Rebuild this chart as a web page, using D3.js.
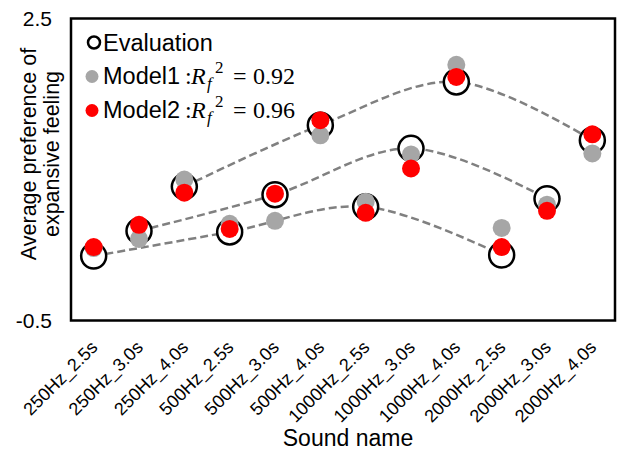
<!DOCTYPE html>
<html>
<head>
<meta charset="utf-8">
<script src="https://cdn.jsdelivr.net/npm/d3@7"></script>
<style>
  body { margin: 0; background: #fff; }
  svg { display: block; }
</style>
</head>
<body>
<div id="chart"></div>
<script>
// data
const categories = ['250Hz_2.5s', '250Hz_3.0s', '250Hz_4.0s', '500Hz_2.5s', '500Hz_3.0s', '500Hz_4.0s',
    '1000Hz_2.5s', '1000Hz_3.0s', '1000Hz_4.0s', '2000Hz_2.5s', '2000Hz_3.0s', '2000Hz_4.0s'];
const evaluation = [0.14, 0.39, 0.83, 0.38, 0.75, 1.44, 0.63, 1.21, 1.87, 0.15, 0.71, 1.29];
const model1 = [0.22, 0.31, 0.90, 0.46, 0.49, 1.34, 0.68, 1.15, 2.04, 0.42, 0.65, 1.16];
const model2 = [0.23, 0.45, 0.77, 0.41, 0.76, 1.49, 0.57, 1.01, 1.92, 0.23, 0.59, 1.35];
// trend curves join the evaluation points of equal duration
const durationGroups = [[0, 3, 6, 9], [1, 4, 7, 10], [2, 5, 8, 11]];
const yTicks = [-0.5, 2.5];
const model1Label = { name: 'Model1', r2: '0.92' };
const model2Label = { name: 'Model2', r2: '0.96' };

const width = 620, height = 452;
const margin = { top: 18.5, right: 5, bottom: 131.5, left: 71 };
const sans = '"Liberation Sans", Arial, sans-serif';
const serif = '"Liberation Serif", "DejaVu Serif", serif';

const svg = d3.select('#chart').append('svg')
    .attr('width', width)
    .attr('height', height);

const chartWidth = width - margin.left - margin.right;
const chartHeight = height - margin.top - margin.bottom;

const g = svg.append('g')
    .attr('transform', `translate(${margin.left},${margin.top})`);

const xScale = d3.scaleBand()
    .domain(categories)
    .range([0, chartWidth]);
const xc = d => xScale(d) + xScale.bandwidth() / 2;

const yScale = d3.scaleLinear()
    .domain([-0.5, 2.5])
    .range([chartHeight, 0]);

// y axis labels only
const yAxis = g.append('g')
    .call(d3.axisLeft(yScale).tickValues(yTicks).tickSize(0).tickPadding(19).tickFormat(d => d.toFixed(1)));
yAxis.select('.domain').remove();
yAxis.selectAll('text')
    .attr('font-family', sans)
    .attr('font-size', 21)
    .attr('fill', '#000');

// x axis labels, rotated
const xAxis = g.append('g')
    .attr('transform', `translate(0,${chartHeight})`)
    .call(d3.axisBottom(xScale).tickSize(0).tickFormat(d => d));
xAxis.select('.domain').remove();
xAxis.selectAll('text')
    .attr('font-family', sans)
    .attr('font-size', 18)
    .attr('fill', '#000')
    .attr('text-anchor', 'end')
    .attr('dy', 0)
    .attr('y', 0)
    .attr('transform', 'translate(5,28) rotate(-45)');

// trend curves
const line = d3.line()
    .x(i => xc(categories[i]))
    .y(i => yScale(evaluation[i]))
    .curve(d3.curveCardinal.tension(0));

g.selectAll('path.trend')
    .data(durationGroups)
    .enter()
    .append('path')
    .attr('class', 'trend')
    .attr('d', line)
    .attr('fill', 'none')
    .attr('stroke', '#808080')
    .attr('stroke-width', 2.5)
    .attr('stroke-dasharray', '8,4');

// markers
g.selectAll('circle.eval')
    .data(evaluation)
    .enter()
    .append('circle')
    .attr('class', 'eval')
    .attr('cx', (d, i) => xc(categories[i]))
    .attr('cy', d => yScale(d))
    .attr('r', 12.5)
    .attr('fill', '#fff')
    .attr('stroke', '#000')
    .attr('stroke-width', 2.5);

g.selectAll('circle.m1')
    .data(model1)
    .enter()
    .append('circle')
    .attr('class', 'm1')
    .attr('cx', (d, i) => xc(categories[i]))
    .attr('cy', d => yScale(d))
    .attr('r', 9)
    .attr('fill', '#a6a6a6');

g.selectAll('circle.m2')
    .data(model2)
    .enter()
    .append('circle')
    .attr('class', 'm2')
    .attr('cx', (d, i) => xc(categories[i]))
    .attr('cy', d => yScale(d))
    .attr('r', 9)
    .attr('fill', '#ff0000');

// plot frame
g.append('rect')
    .attr('width', chartWidth)
    .attr('height', chartHeight)
    .attr('fill', 'none')
    .attr('stroke', '#000')
    .attr('stroke-width', 2.5);

// legend
const legend = svg.append('g');
legend.append('circle')
    .attr('cx', 94).attr('cy', 42.5).attr('r', 6)
    .attr('fill', '#fff').attr('stroke', '#000').attr('stroke-width', 2.5);
legend.append('text')
    .attr('x', 103).attr('y', 50.5)
    .attr('font-family', sans).attr('font-size', 23.5)
    .text('Evaluation');

[[model1Label, '#a6a6a6', 84], [model2Label, '#ff0000', 118]].forEach(([lab, color, y]) => {
    legend.append('circle')
        .attr('cx', 92).attr('cy', y - 7.5).attr('r', 6.5)
        .attr('fill', color);
    legend.append('text')
        .attr('x', 103).attr('y', y)
        .attr('font-family', sans).attr('font-size', 23.5)
        .text(lab.name);
    const math = legend.append('g')
        .attr('font-family', serif).attr('font-size', 24);
    math.append('text').attr('x', 185).attr('y', y).text(':');
    math.append('text').attr('x', 191).attr('y', y).attr('font-style', 'italic').text('R');
    math.append('text').attr('x', 207).attr('y', y + 5).attr('font-style', 'italic').attr('font-size', 17).text('f');
    math.append('text').attr('x', 215).attr('y', y - 11).attr('font-size', 17).text('2');
    math.append('text').attr('x', 233).attr('y', y).text('=');
    math.append('text').attr('x', 253).attr('y', y).text(lab.r2);
});

// axis titles
svg.append('text')
    .attr('x', margin.left + chartWidth / 2 + 5)
    .attr('y', 446)
    .attr('text-anchor', 'middle')
    .attr('font-family', sans)
    .attr('font-size', 23)
    .text('Sound name');

const yTitle = svg.append('text')
    .attr('transform', 'translate(36,154) rotate(-90)')
    .attr('text-anchor', 'middle')
    .attr('font-family', sans)
    .attr('font-size', 21.5);
yTitle.append('tspan').attr('x', 0).attr('y', 0).text('Average preference of');
yTitle.append('tspan').attr('x', 0).attr('y', 22.5).text('expansive feeling');
</script>
</body>
</html>
